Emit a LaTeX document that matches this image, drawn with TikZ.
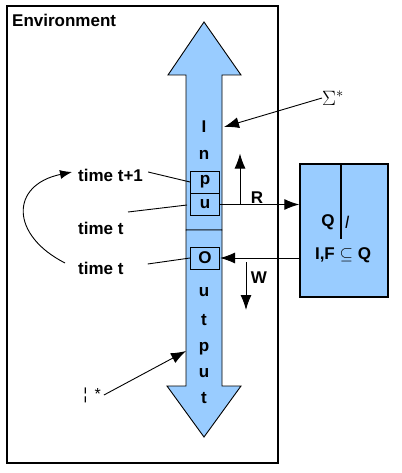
\documentclass[tikz,border=0pt]{standalone}
\usepackage{fontspec}
\setmainfont{Liberation Sans}
\usetikzlibrary{arrows.meta}
\definecolor{tapeblue}{RGB}{153,204,255}
\begin{document}
\begin{tikzpicture}[x=1pt,y=-1pt,
    font=\bfseries\fontsize{17}{19}\selectfont,
    >={Latex[length=15pt,width=11pt]},
    cell/.style={draw=black,line width=1pt,minimum width=29pt,minimum height=22pt,inner sep=0pt},
    ch/.style={inner sep=0pt},
    lbl/.style={anchor=west,inner sep=0pt},
    thin/.style={line width=0.9pt}]
    \useasboundingbox (0,0) rectangle (401,473);

    % environment
    \draw[line width=1.1pt] (7,6) rectangle (278,463);
    \node[lbl] (env) at (12,20) {Environment};

    % the tape
    \draw[fill=tapeblue,line width=0.9pt] (204,22) -- (241,75) -- (222,75) -- (222,230)
        -- (186,230) -- (186,75) -- (168,75) -- cycle;
    \draw[fill=tapeblue,line width=0.9pt] (186,230) -- (222,230) -- (222,386) -- (241,386)
        -- (204,437) -- (167,386) -- (186,386) -- cycle;

    \node[ch] (i1) at (204,127) {I};
    \node[ch] (i2) at (204,155) {n};
    \node[cell] (p) at (205,182) {p};
    \node[cell] (u) at (205,204.5) {u};
    \node[cell] (o) at (205,258) {O};
    \node[ch] (o2) at (204,292) {u};
    \node[ch] (o3) at (204,320) {t};
    \node[ch] (o4) at (204,349) {p};
    \node[ch] (o5) at (204,373) {u};
    \node[ch] (o6) at (204,398) {t};

    % control
    \node[draw=black,line width=1.4pt,fill=tapeblue,minimum width=88pt,minimum height=133pt]
        (fc) at (344,230.5) {};
    \draw[line width=1.2pt] ([xshift=-3pt]fc.north) -- ++(0,76);
    \node[ch] (q) at (328,222) {Q};
    \node[ch] (delta) at (347,222) {\mdseries\itshape l};
    \node[ch] (fin) at (343,255) {I,F $\subseteq$ Q};

    % labels
    \node[ch,font=\fontsize{21}{23}\selectfont] (sig) at (333,98) {$\Sigma^*$};
    \node[ch,font=\mdseries\fontsize{16}{18}\selectfont] (star) at (92,395) {¦ \,*};
    \node[lbl] (ta) at (78,175) {time t+1};
    \node[lbl] (tm) at (78,228) {time t};
    \node[lbl] (tb) at (78,268) {time t};
    \node[ch] (r) at (257,198) {R};
    \node[ch] (w) at (259,278) {W};

    \coordinate (iI) at (224,127);
    \coordinate (oI) at (186,351);
    \coordinate (tmS) at (128,212);
    \coordinate (uL) at (187,205);
    \coordinate (rUp) at (240,204.5);
    \coordinate (wDn) at (246,262);

    % read / write
    \draw[->,line width=1pt] (u.east) -- (u.east -| fc.west);
    \draw[->,line width=1pt] (o.east -| fc.west) -- (o.east);
    \draw[->,line width=1pt] (rUp) -- ++(0,-51);
    \draw[->,line width=1pt] (wDn) -- ++(0,48);

    \draw[->,thin] (sig.west) -- (iI);
    \draw[->,thin] ([xshift=3pt]star.east) -- (oI);
    \draw[thin] ([xshift=5pt,yshift=3pt]ta.east) -- (p.west);
    \draw[thin] (tmS) -- (uL);
    \draw[thin] ([xshift=24pt,yshift=4pt]tb.east) -- (o.west);
    \draw[->,thin,>={Latex[length=12pt,width=9pt]}] ([xshift=-13pt,yshift=5pt]tb.west)
        .. controls (10,235) and (10,185) .. ([xshift=-6pt,yshift=3pt]ta.west);

  \end{tikzpicture}
\end{document}
